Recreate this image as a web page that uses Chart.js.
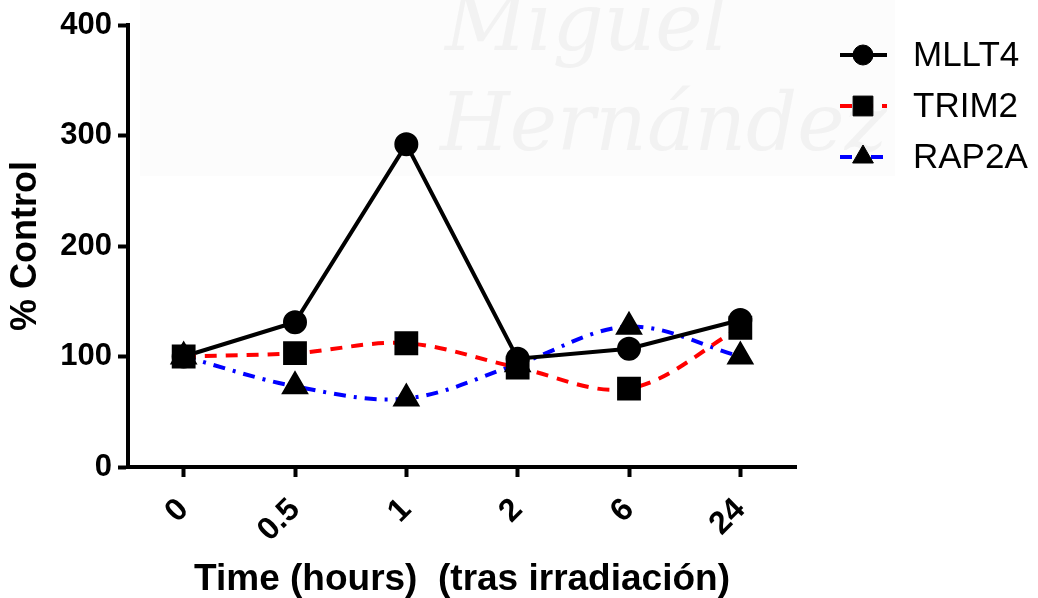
<!DOCTYPE html>
<html>
<head>
<meta charset="utf-8">
<script src="https://cdn.jsdelivr.net/npm/chart.js@4/dist/chart.umd.min.js"></script>
<style>
  html, body { margin: 0; padding: 0; background: #fff; }
  #wrap { width: 1038px; height: 598px; position: relative; }
</style>
</head>
<body>
<div id="wrap"><canvas id="chart" width="1038" height="598"></canvas></div>
<script>
'use strict';

// ── data ──────────────────────────────────────────────────────────────────────
const timeLabels = ['0', '0.5', '1', '2', '6', '24'];
const mllt4 = [100, 131, 292, 98, 107, 133];
const trim2 = [100, 103, 112, 90, 71, 126];
const rap2a = [100, 73, 62, 93, 127, 100];
const yTicks = [0, 100, 200, 300, 400];

const FONT = 'Liberation Sans, Arial, Helvetica, sans-serif';

// faint watermark behind the plot (as in the scanned figure)
const watermark = {
  id: 'watermark',
  beforeDraw(chart) {
    const ctx = chart.ctx;
    ctx.save();
    ctx.fillStyle = '#fcfcfc';
    ctx.fillRect(140, 0, 755, 176);
    ctx.fillStyle = '#f2f2f2';
    ctx.font = 'italic 80px "DejaVu Serif", serif';
    ctx.textBaseline = 'alphabetic';
    ctx.fillText('Miguel', 445, 50);
    ctx.fillText('Hernández', 440, 150);
    ctx.restore();
  }
};

// legend: line sample + marker + label, on the right
const sideLegend = {
  id: 'sideLegend',
  afterDraw(chart) {
    const ctx = chart.ctx;
    const rows = [55, 106, 157];
    chart.data.datasets.forEach((ds, i) => {
      const y = rows[i];
      ctx.save();
      ctx.strokeStyle = ds.borderColor;
      ctx.lineWidth = ds.borderWidth;
      ctx.setLineDash(ds.borderDash || []);
      ctx.beginPath();
      ctx.moveTo(840, y);
      ctx.lineTo(887, y);
      ctx.stroke();
      ctx.restore();
      ctx.save();
      ctx.fillStyle = '#000';
      ctx.strokeStyle = '#000';
      Chart.helpers.drawPoint(ctx, {
        pointStyle: ds.pointStyle, rotation: 0, borderWidth: 1, radius: ds.pointRadius
      }, 863, y);
      ctx.font = '35px ' + FONT;
      ctx.textBaseline = 'middle';
      ctx.fillText(ds.label, 913, y + 1);
      ctx.restore();
    });
  }
};

Chart.defaults.font.family = FONT;
Chart.defaults.color = '#000';

new Chart(document.getElementById('chart'), {
  type: 'line',
  data: {
    labels: timeLabels,
    datasets: [
      {
        label: 'MLLT4', data: mllt4,
        borderColor: '#000', borderWidth: 4, tension: 0,
        pointStyle: 'circle', pointRadius: 10,
        pointBackgroundColor: '#000', pointBorderColor: '#000',
        order: 1
      },
      {
        label: 'TRIM2', data: trim2,
        borderColor: '#ff0000', borderWidth: 4, borderDash: [12, 9], tension: 0.35,
        pointStyle: 'rect', pointRadius: 14,
        pointBackgroundColor: '#000', pointBorderColor: '#000',
        order: 0
      },
      {
        label: 'RAP2A', data: rap2a,
        borderColor: '#0000ff', borderWidth: 4, borderDash: [12, 8, 3, 8], tension: 0.35,
        pointStyle: 'triangle', pointRadius: 12,
        pointBackgroundColor: '#000', pointBorderColor: '#000',
        order: 2
      }
    ]
  },
  options: {
    responsive: false,
    animation: false,
    devicePixelRatio: 1,
    layout: { padding: { top: 25, right: 242, left: 0, bottom: 0 } },
    plugins: {
      legend: { display: false },
      tooltip: { enabled: false }
    },
    scales: {
      x: {
        offset: true,
        afterFit: s => { s.height = 131; },
        border: { display: true, color: '#000', width: 4 },
        grid: { display: true, drawOnChartArea: false, color: '#000', tickLength: 10, tickWidth: 4 },
        ticks: {
          color: '#000', font: { size: 32, weight: 'bold' },
          minRotation: 45, maxRotation: 45, padding: 14
        },
        title: {
          display: true, text: 'Time (hours)  (tras irradiación)',
          color: '#000', font: { size: 37, weight: 'bold', lineHeight: 1.0 }, padding: { top: 0, bottom: 0 }
        }
      },
      y: {
        min: 0, max: 400,
        afterFit: s => { s.width = 128; },
        afterBuildTicks: s => { s.ticks = yTicks.map(v => ({ value: v })); },
        border: { display: true, color: '#000', width: 4 },
        grid: { display: true, drawOnChartArea: false, color: '#000', tickLength: 10, tickWidth: 4 },
        ticks: { color: '#000', font: { size: 31, weight: 'bold' }, padding: 6 },
        title: {
          display: true, text: '% Control',
          color: '#000', font: { size: 36, weight: 'bold' }, padding: { top: 4, bottom: 0 }
        }
      }
    }
  },
  plugins: [watermark, sideLegend]
});
</script>
</body>
</html>
